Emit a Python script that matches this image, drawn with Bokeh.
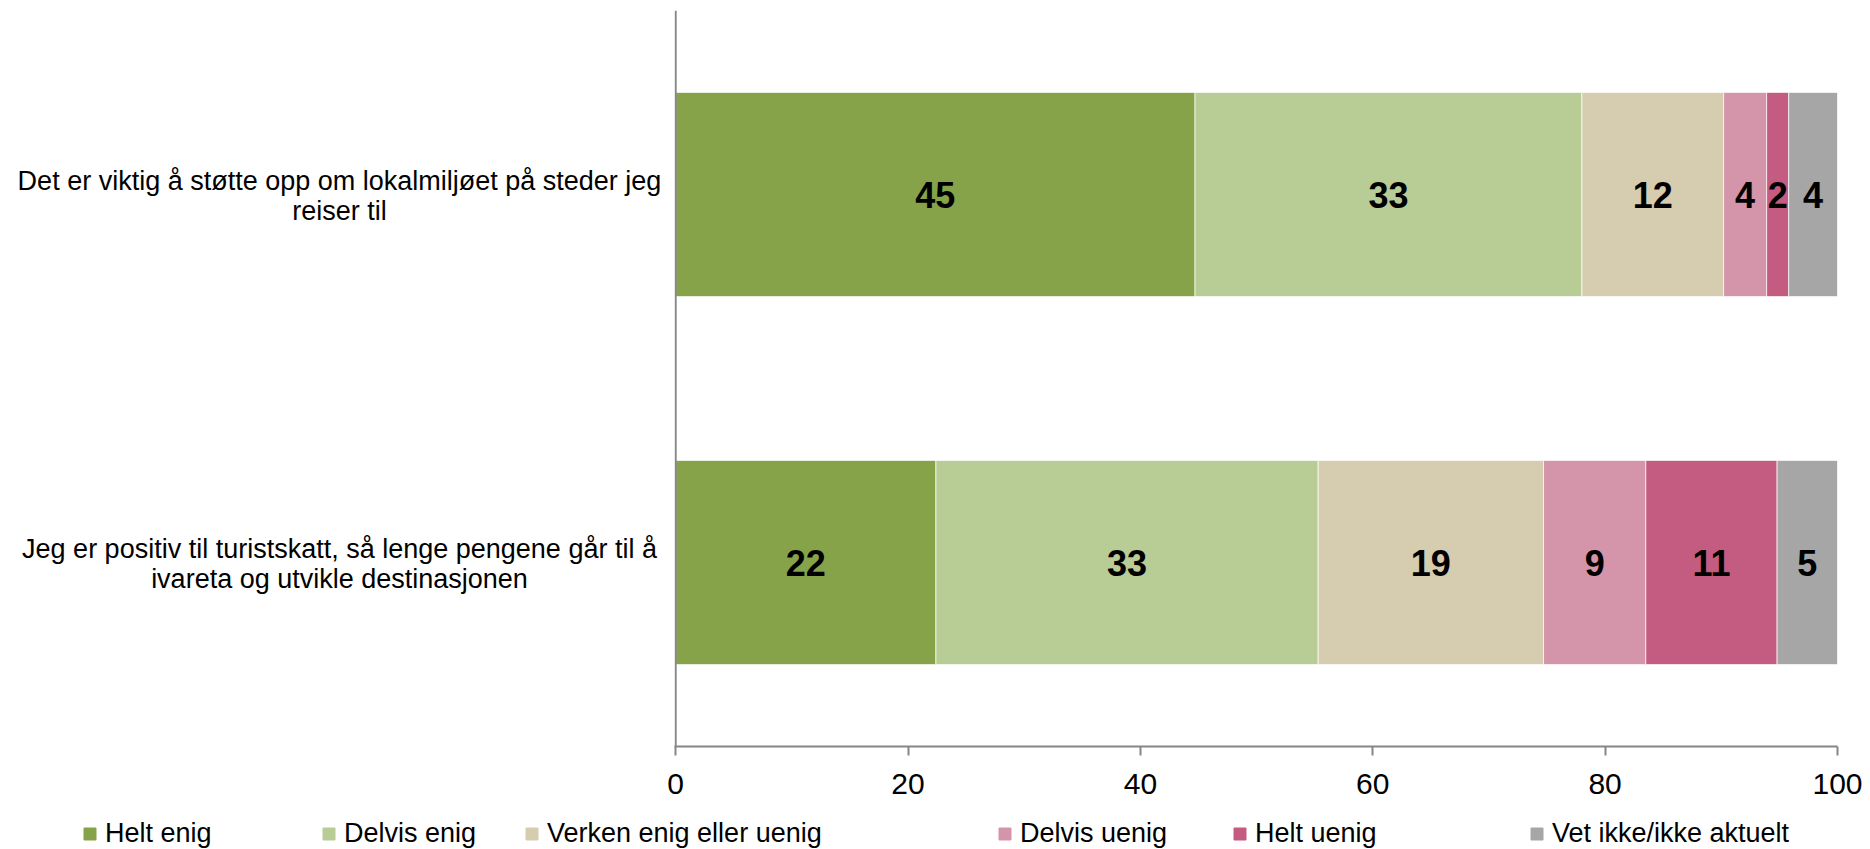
from bokeh.plotting import figure
from bokeh.layouts import row, column
from bokeh.models import ColumnDataSource, FactorRange, Range1d, FixedTicker, Legend, LegendItem, Span
from bokeh.core.properties import value
from bokeh.embed import file_html
from bokeh.resources import INLINE

categories = [
    "Det er viktig å støtte opp om lokalmiljøet på steder jeg\nreiser til",
    "Jeg er positiv til turistskatt, så lenge pengene går til å\nivareta og utvikle destinasjonen",
]
series = ["Helt enig", "Delvis enig", "Verken enig eller uenig", "Delvis uenig", "Helt uenig", "Vet ikke/ikke aktuelt"]
helt_enig = [44.7, 22.4]
delvis_enig = [33.3, 32.9]
verken = [12.2, 19.4]
delvis_uenig = [3.7, 8.8]
helt_uenig = [1.9, 11.3]
vet_ikke = [4.2, 5.2]
x_ticks = [0, 20, 40, 60, 80, 100]

colors = ["#87A34A", "#B8CC96", "#D6CCAF", "#D494A9", "#C45B80", "#A6A6A6"]
AXIS_COLOR = "#868686"
FONT = "Liberation Sans"

values = [helt_enig, delvis_enig, verken, delvis_uenig, helt_uenig, vet_ikke]
keys = ["s%d" % i for i in range(len(series))]
data = {"cat": categories}
for k, v in zip(keys, values):
    data[k] = v
source = ColumnDataSource(data)

factors = list(reversed(categories))
yr = FactorRange(factors=factors)

TOP_H = 808
LEFT_W = 666
MAIN_PAD = 8  # main frame starts at LEFT_W + MAIN_PAD

# ---- main chart ----
p = figure(width=1870 - LEFT_W, height=TOP_H, output_backend="svg", toolbar_location=None,
           y_range=yr, x_range=Range1d(-0.1, 100), y_axis_location=None,
           min_border_left=MAIN_PAD, min_border_right=33, min_border_top=10, min_border_bottom=62)
p.outline_line_color = None
p.grid.visible = False

renderers = p.hbar_stack(keys, y="cat", height=0.555, color=colors, source=source,
                         line_color="white", line_width=1, line_alpha=0.7)

lx, ly, lt = [], [], []
for ci, cat in enumerate(categories):
    cum = 0.0
    for v in values:
        val = v[ci]
        lx.append(cum + val / 2.0)
        ly.append(cat)
        lt.append(str(int(round(val))))
        cum += val
lsrc = ColumnDataSource(dict(x=lx, y=ly, t=lt))
p.text(x="x", y="y", text="t", source=lsrc, text_align="center", text_baseline="middle",
       text_font=value(FONT), text_font_style="bold", text_font_size="36px", text_color="black")

# vertical (category) axis line
p.add_layout(Span(location=0, dimension="height", line_color=AXIS_COLOR, line_width=2))

p.xaxis.ticker = FixedTicker(ticks=x_ticks)
p.xaxis.axis_line_color = AXIS_COLOR
p.xaxis.axis_line_width = 2
p.xaxis.major_tick_line_color = AXIS_COLOR
p.xaxis.major_tick_line_width = 2
p.xaxis.major_tick_out = 9
p.xaxis.major_tick_in = 0
p.xaxis.minor_tick_line_color = None
p.xaxis.major_label_text_font = FONT
p.xaxis.major_label_text_font_size = "30px"
p.xaxis.major_label_text_color = "black"
p.xaxis.major_label_standoff = 18

# ---- category labels (left panel sharing the y range) ----
pl = figure(width=LEFT_W, height=TOP_H, output_backend="svg", toolbar_location=None,
            y_range=yr, x_range=Range1d(0, LEFT_W), x_axis_location=None, y_axis_location=None,
            min_border_left=0, min_border_right=0, min_border_top=10, min_border_bottom=62)
pl.outline_line_color = None
pl.grid.visible = False
csrc = ColumnDataSource(dict(x=[339] * len(categories), y=categories, t=categories))
pl.text(x="x", y="y", text="t", source=csrc, text_align="center", text_baseline="middle",
        y_offset=1.5, text_font=value(FONT), text_font_size="27px", text_color="black",
        text_line_height=1.0)

# ---- legend strip ----
LEG_H = 849 - TOP_H
pg = figure(width=1870, height=LEG_H, output_backend="svg", toolbar_location=None,
            x_range=Range1d(0, 1870), y_range=Range1d(0, LEG_H),
            x_axis_location=None, y_axis_location=None, min_border=0)
pg.outline_line_color = None
pg.grid.visible = False
leg_x = [82, 321, 524, 997, 1232, 1529]
for name, c, lxp in zip(series, colors, leg_x):
    r = pg.hbar(y=[-1000], left=[0], right=[1], height=1, color=c)
    leg = Legend(items=[LegendItem(label=name, renderers=[r])], location=(lxp, 0),
                 orientation="horizontal", padding=0, margin=0, spacing=0,
                 glyph_width=15, glyph_height=15, label_standoff=8,
                 label_text_font=FONT, label_text_font_size="27px", label_text_color="black",
                 border_line_color=None, background_fill_alpha=0)
    pg.add_layout(leg)

layout = column(row(pl, p), pg)
open("out.html", "w").write(file_html(layout, INLINE))
